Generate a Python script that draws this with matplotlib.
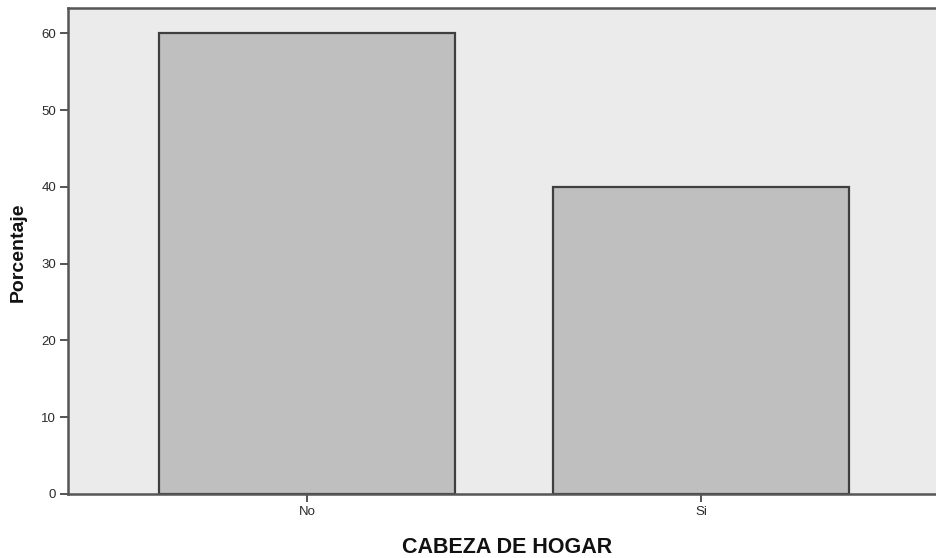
import numpy as np
import matplotlib.pyplot as plt

categories = ['No', 'Si']
porcentaje = [60.0, 40.0]
yticks = [0, 10, 20, 30, 40, 50, 60]

plt.rcParams['font.family'] = ['Liberation Sans', 'DejaVu Sans']

fig = plt.figure(figsize=(9.36, 5.58), dpi=100)
ax = fig.add_axes([68 / 936, 64 / 558, 872 / 936, 486 / 558])
ax.set_facecolor('#ebebeb')

x = np.arange(len(categories))
ax.bar(x, porcentaje, width=0.75, color='#bfbfbf', edgecolor='#3f3f3f', linewidth=1.6)

ax.set_xlim(-0.607, 1.607)
ax.set_ylim(0, 63.3)
ax.set_xticks(x)
ax.set_xticklabels(categories)
ax.set_yticks(yticks)

ax.spines['right'].set_visible(False)
for s in ['left', 'bottom', 'top']:
    ax.spines[s].set_color('#555555')
    ax.spines[s].set_linewidth(1.8)

ax.tick_params(axis='both', direction='out', length=6, width=1.4, color='#555555',
               labelsize=9.5, labelcolor='#2a2a2a', pad=2.5)

ax.set_xlabel('CABEZA DE HOGAR', fontsize=15.5, fontweight='bold', color='#111111')
ax.xaxis.set_label_coords(0.504, -0.088)
ax.set_ylabel('Porcentaje', fontsize=14, fontweight='bold', color='#111111')
ax.yaxis.set_label_coords(-0.047, 0.498)

fig.savefig('out.png', dpi=100)
